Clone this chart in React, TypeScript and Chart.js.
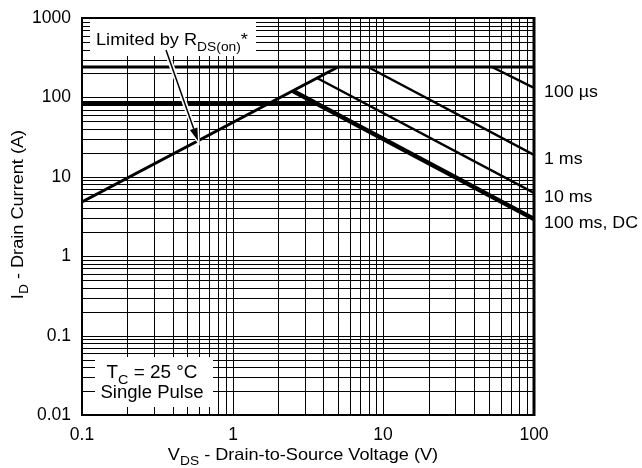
import { useEffect, useRef } from "react";
import { Chart, registerables } from "chart.js";

Chart.register(...registerables);

// Safe operating area boundaries (V_DS in volts, I_D in amps)
const rdsLimitV = [0.1, 5];
const rdsLimitI = [4.8, 240];
const pulsedLimitV = [0.1, 100];
const pulsedLimitI = [240, 240];
const packageLimitV = [0.1, 3.5];
const packageLimitI = [85, 85];
const pulse100usV = [53, 100];
const pulse100usI = [240, 130];
const pulse1msV = [7.9, 100];
const pulse1msI = [240, 19];
const pulse10msV = [3.63, 100];
const pulse10msI = [174, 6.3];
const pulseDcV = [2.5, 100];
const pulseDcI = [120, 2.9];

// Curve labels to the right of the plot
const curveLabels = ["100 µs", "1 ms", "10 ms", "100 ms, DC"];

// Axis tick labels (decades)
const xTickLabels = ["0.1", "1", "10", "100"];
const yTickLabels = ["0.01", "0.1", "1", "10", "100", "1000"];

// Arrow for the R_DS(on) callout: tail and head (V, A)
const arrowV = [0.36, 0.59];
const arrowI = [390, 28.3];

const FONT = '"Liberation Sans", Arial, Helvetica, sans-serif';

function logTicks(labels: string[]): number[] {
  const majors = labels.map(Number);
  const out: number[] = [];
  for (let i = 0; i < majors.length - 1; i++) {
    for (let k = 1; k <= 9; k++) out.push(Number((majors[i] * k).toPrecision(6)));
  }
  out.push(majors[majors.length - 1]);
  return out;
}

function majorLabel(v: number, labels: string[]): string {
  const found = labels.find((l) => Math.abs(Number(l) - v) / Number(l) < 1e-6);
  return found ?? "";
}

type Part = { t: string; sub?: boolean };

function drawRich(
  ctx: CanvasRenderingContext2D,
  parts: Part[],
  x: number,
  y: number,
  size: number,
  sx: number,
  align: "left" | "center"
) {
  const subSize = size * 0.76;
  ctx.save();
  let w = 0;
  for (const p of parts) {
    ctx.font = `${p.sub ? subSize : size}px ${FONT}`;
    w += ctx.measureText(p.t).width;
  }
  ctx.translate(x, y);
  ctx.scale(sx, 1);
  let cx = align === "center" ? -w / 2 : 0;
  ctx.textAlign = "left";
  ctx.textBaseline = "alphabetic";
  ctx.fillStyle = "#000";
  for (const p of parts) {
    ctx.font = `${p.sub ? subSize : size}px ${FONT}`;
    ctx.fillText(p.t, cx, p.sub ? size * 0.33 : 0);
    cx += ctx.measureText(p.t).width;
  }
  ctx.restore();
}

const line = (vs: number[], is: number[], width: number) => ({
  data: vs.map((v, i) => ({ x: v, y: is[i] })),
  borderColor: "#000",
  backgroundColor: "#000",
  borderWidth: width,
  pointRadius: 0,
  fill: false,
  tension: 0,
  borderCapStyle: "butt" as const,
});

export default function App() {
  const ref = useRef<HTMLCanvasElement>(null);

  useEffect(() => {
    const canvas = ref.current;
    if (!canvas) return;

    const soaDecor = {
      id: "soaDecor",
      beforeDatasetsDraw(chart: any) {
        const { ctx, chartArea: a } = chart;
        ctx.save();
        ctx.fillStyle = "#fff";
        // callout box behind "Limited by R_DS(on)*"
        ctx.fillRect(a.left + 8, a.top + 1, 166, 37);
        // condition box, lower left
        ctx.fillRect(a.left + 13, a.bottom - 58, 118, 50);
        ctx.restore();
      },
      afterDatasetsDraw(chart: any) {
        const { ctx, chartArea: a, scales } = chart;
        const xs = scales.x;
        const ys = scales.y;

        // frame
        ctx.save();
        ctx.strokeStyle = "#000";
        ctx.lineWidth = 2;
        ctx.strokeRect(a.left, a.top, a.right - a.left, a.bottom - a.top);
        ctx.lineWidth = 3;
        ctx.beginPath();
        ctx.moveTo(a.right, a.top - 1);
        ctx.lineTo(a.right, a.bottom + 1);
        ctx.stroke();
        ctx.restore();

        // callout arrow
        const x0 = xs.getPixelForValue(arrowV[0]);
        const y0 = ys.getPixelForValue(arrowI[0]);
        const x1 = xs.getPixelForValue(arrowV[1]);
        const y1 = ys.getPixelForValue(arrowI[1]);
        const ang = Math.atan2(y1 - y0, x1 - x0);
        const headLen = 13;
        const headW = 4;
        const bx = x1 - headLen * Math.cos(ang);
        const by = y1 - headLen * Math.sin(ang);
        ctx.save();
        ctx.lineCap = "butt";
        ctx.strokeStyle = "#fff";
        ctx.lineWidth = 5;
        ctx.beginPath();
        ctx.moveTo(x0, y0);
        ctx.lineTo(bx, by);
        ctx.stroke();
        const head = () => {
          ctx.beginPath();
          ctx.moveTo(x1, y1);
          ctx.lineTo(bx + headW * Math.sin(ang), by - headW * Math.cos(ang));
          ctx.lineTo(bx - headW * Math.sin(ang), by + headW * Math.cos(ang));
          ctx.closePath();
        };
        head();
        ctx.lineWidth = 3;
        ctx.stroke();
        ctx.strokeStyle = "#000";
        ctx.lineWidth = 1.5;
        ctx.beginPath();
        ctx.moveTo(x0, y0);
        ctx.lineTo(bx, by);
        ctx.stroke();
        ctx.fillStyle = "#000";
        head();
        ctx.fill();
        ctx.restore();

        // callout text
        drawRich(
          ctx,
          [{ t: "Limited by R" }, { t: "DS(on)", sub: true }, { t: "*" }],
          a.left + 14,
          a.top + 27,
          17,
          1.07,
          "left"
        );

        // condition text
        const cx = a.left + 70;
        drawRich(ctx, [{ t: "T" }, { t: "C", sub: true }, { t: " = 25 °C" }], cx, a.bottom - 37, 17.5, 1.08, "center");
        drawRich(ctx, [{ t: "Single Pulse" }], cx, a.bottom - 17, 17.5, 1.06, "center");

        // curve labels at the right-hand ends of the pulse curves
        const ends = [pulse100usI, pulse1msI, pulse10msI, pulseDcI];
        ends.forEach((arr, i) => {
          const yy = ys.getPixelForValue(arr[arr.length - 1]) + 3;
          drawRich(ctx, [{ t: curveLabels[i] }], a.right + 10, yy + 6, 16.5, 1.08, "left");
        });

        // axis titles
        drawRich(
          ctx,
          [{ t: "V" }, { t: "DS", sub: true }, { t: " - Drain-to-Source Voltage (V)" }],
          (a.left + a.right) / 2 - 5,
          a.bottom + 45,
          16.5,
          1.1,
          "center"
        );
        ctx.save();
        ctx.translate(23, (a.top + a.bottom) / 2 - 2);
        ctx.rotate(-Math.PI / 2);
        drawRich(ctx, [{ t: "I" }, { t: "D", sub: true }, { t: " - Drain Current (A)" }], 0, 0, 16.5, 1.1, "center");
        ctx.restore();
      },
    };

    const xTicks = logTicks(xTickLabels);
    const yTicks = logTicks(yTickLabels);

    const chart = new Chart(canvas, {
      type: "line",
      data: {
        datasets: [
          line(pulsedLimitV, pulsedLimitI, 3),
          line(packageLimitV, packageLimitI, 4),
          line(rdsLimitV, rdsLimitI, 3),
          line(pulse100usV, pulse100usI, 2.5),
          line(pulse1msV, pulse1msI, 2.5),
          line(pulse10msV, pulse10msI, 2.5),
          line(pulseDcV, pulseDcI, 4.5),
        ] as any,
      },
      options: {
        responsive: false,
        animation: false,
        devicePixelRatio: 1,
        events: [],
        layout: { padding: { left: 0, right: 108, top: 18, bottom: 0 } },
        plugins: { legend: { display: false }, tooltip: { enabled: false } },
        scales: {
          x: {
            type: "logarithmic",
            min: 0.1,
            max: 100,
            alignToPixels: true,
            grid: { color: "#000", lineWidth: 1, drawTicks: false },
            border: { display: false },
            ticks: {
              autoSkip: false,
              maxRotation: 0,
              padding: 10,
              color: "#000",
              font: { family: FONT, size: 17.5 },
              callback: (v: any) => majorLabel(Number(v), xTickLabels),
            },
            afterBuildTicks: (s: any) => {
              s.ticks = xTicks.map((v) => ({ value: v }));
            },
            afterFit: (s: any) => {
              s.height = 53;
              s.paddingLeft = 0;
              s.paddingRight = 0;
            },
          },
          y: {
            type: "logarithmic",
            min: 0.01,
            max: 1000,
            alignToPixels: true,
            grid: { color: "#000", lineWidth: 1, drawTicks: false },
            border: { display: false },
            ticks: {
              autoSkip: false,
              padding: 11,
              color: "#000",
              font: { family: FONT, size: 17.5 },
              callback: (v: any) => majorLabel(Number(v), yTickLabels),
            },
            afterBuildTicks: (s: any) => {
              s.ticks = yTicks.map((v) => ({ value: v }));
            },
            afterFit: (s: any) => {
              s.width = 82;
              s.paddingTop = 0;
              s.paddingBottom = 0;
            },
          },
        },
      } as any,
      plugins: [soaDecor],
    });

    return () => chart.destroy();
  }, []);

  return (
    <div style={{ position: "absolute", left: 0, top: 0, width: 642, height: 468, background: "#fff" }}>
      <canvas ref={ref} width={642} height={468} style={{ display: "block", width: 642, height: 468 }} />
    </div>
  );
}
